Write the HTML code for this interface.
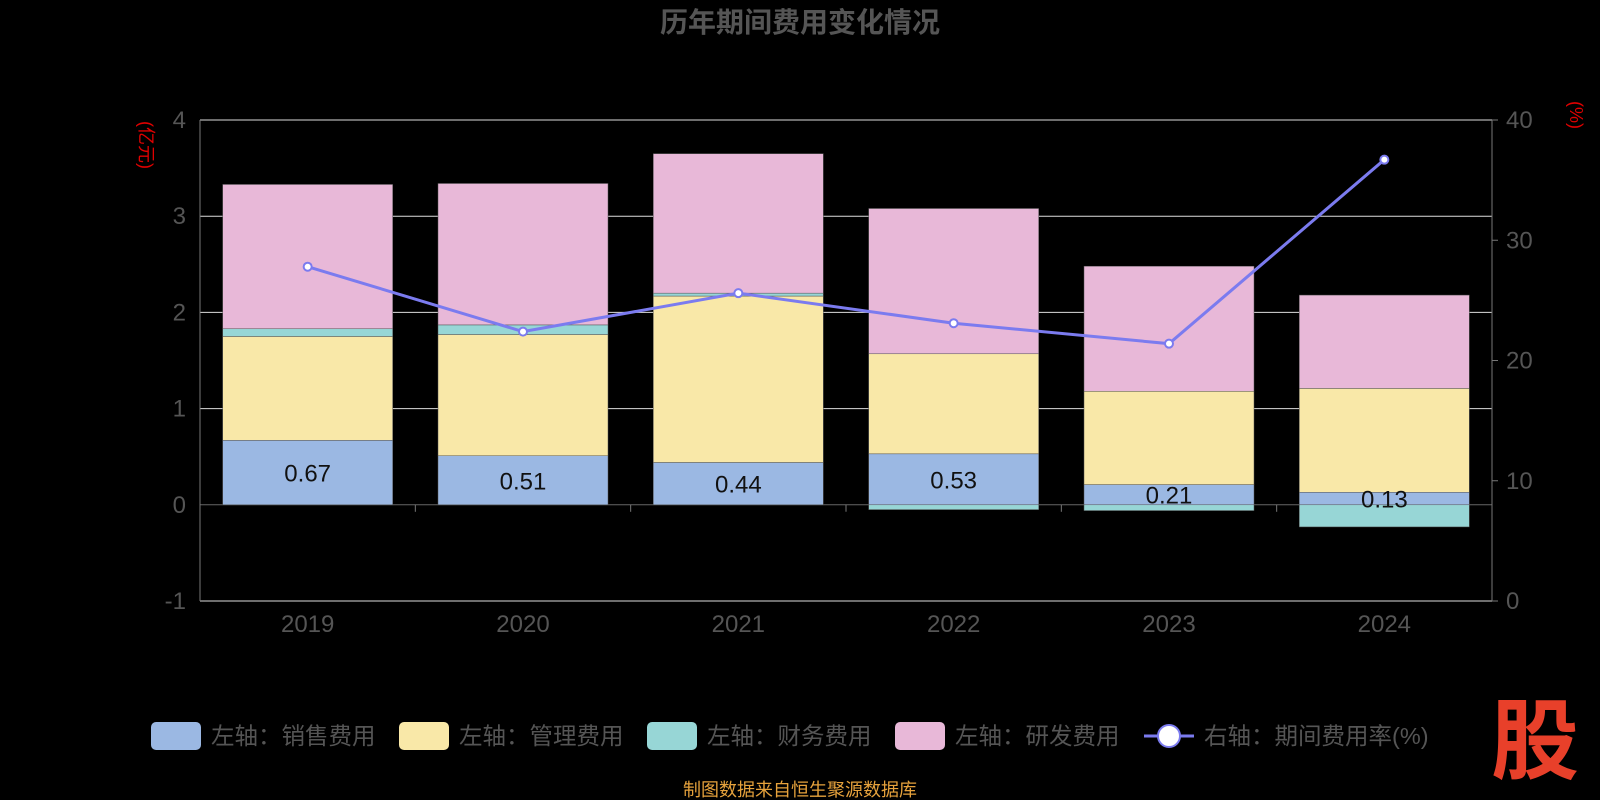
<!DOCTYPE html>
<html><head><meta charset="utf-8"><style>
html,body{margin:0;padding:0;background:#000;}
svg{display:block;font-family:"Liberation Sans","Noto Sans CJK SC",sans-serif;}
</style></head><body>
<svg id="chart" width="1600" height="800" viewBox="0 0 1600 800">
<text x="800" y="32" text-anchor="middle" font-size="28" font-weight="bold" fill="#555">历年期间费用变化情况</text>
<text transform="translate(140,145) rotate(90)" text-anchor="middle" font-size="18" fill="#e00000">(亿元)</text>
<text transform="translate(1570,115) rotate(90)" text-anchor="middle" font-size="18" fill="#e00000">(%)</text>
<g id="grid"></g><g id="bars"></g><g id="line"></g><g id="axes"></g>
<g font-size="23.5" fill="#555">
<rect x="151" y="722" width="50" height="28" rx="5" fill="#9bb8e3"/><text x="211" y="744">左轴：销售费用</text>
<rect x="399" y="722" width="50" height="28" rx="5" fill="#f9e8a8"/><text x="459" y="744">左轴：管理费用</text>
<rect x="647" y="722" width="50" height="28" rx="5" fill="#97d6d6"/><text x="707" y="744">左轴：财务费用</text>
<rect x="895" y="722" width="50" height="28" rx="5" fill="#e8b8d8"/><text x="955" y="744">左轴：研发费用</text>
<line x1="1144" y1="736" x2="1194" y2="736" stroke="#7b7bef" stroke-width="3"/><circle cx="1169" cy="736" r="11" fill="#fff" stroke="#7b7bef" stroke-width="2"/><text x="1204" y="744">右轴：期间费用率(%)</text>
</g>
<text x="800" y="796" text-anchor="middle" font-size="18" fill="#e6a23c">制图数据来自恒生聚源数据库</text>
<text x="1535" y="772" text-anchor="middle" font-size="88" font-weight="bold" fill="#e8402a">股</text>
</svg>
<script>
const years=["2019","2020","2021","2022","2023","2024"];
const sales=[0.67,0.51,0.44,0.53,0.21,0.13];
const admin=[1.08,1.26,1.73,1.04,0.97,1.08];
const finance=[0.08,0.10,0.03,-0.05,-0.06,-0.23];
const rd=[1.50,1.47,1.45,1.51,1.30,0.97];
const rate=[27.8,22.4,25.6,23.1,21.4,36.7];
const leftTicks=[-1,0,1,2,3,4];
const rightTicks=[0,10,20,30,40];
const NS="http://www.w3.org/2000/svg";
const x0=200,x1=1492,plotTop=120,plotBot=601;
const yL=v=>plotBot-(v+1)/5*(plotBot-plotTop);
const yR=v=>plotBot-v/40*(plotBot-plotTop);
const band=(x1-x0)/years.length;
const xc=i=>x0+band*(i+0.5);
function mk(tag,attrs,parent){const e=document.createElementNS(NS,tag);for(const k in attrs)e.setAttribute(k,attrs[k]);document.getElementById(parent).appendChild(e);return e;}
leftTicks.forEach(t=>{
 const g=mk('line',{x1:x0,x2:x1,y1:yL(t),y2:yL(t),stroke:t===0?'#666':'#ddd','stroke-width':1},'grid');
 
 
 const l=mk('text',{x:x0-14,y:yL(t)+8,'text-anchor':'end','font-size':24,fill:'#555'},'axes');l.textContent=t;
 
 
});
rightTicks.forEach(t=>{
 const l=mk('text',{x:x1+14,y:yR(t)+8,'font-size':24,fill:'#555'},'axes');l.textContent=t;
 
 
 mk('line',{x1:x1,x2:x1+6,y1:yR(t),y2:yR(t),stroke:'#777'},'axes');
});
mk('line',{x1:x0,x2:x0,y1:plotTop,y2:plotBot,stroke:'#777'},'axes');
mk('line',{x1:x1,x2:x1,y1:plotTop,y2:plotBot,stroke:'#777'},'axes');
for(let i=1;i<years.length;i++)mk('line',{x1:x0+band*i,x2:x0+band*i,y1:yL(0),y2:yL(0)+7,stroke:'#777'},'axes');
const bw=170;
years.forEach((y,i)=>{
 const lab=mk('text',{x:xc(i),y:plotBot+31,'text-anchor':'middle','font-size':24,fill:'#555'},'axes');lab.textContent=y;
 
 
 let pos=0,neg=0;
 [[sales,'#9bb8e3','bar-sales'],[admin,'#f9e8a8','bar-admin'],[finance,'#97d6d6','bar-finance'],[rd,'#e8b8d8','bar-rd']].forEach(([arr,c,n])=>{
  const v=arr[i];let a,b;
  if(v>=0){a=pos;b=pos+v;pos=b;}else{a=neg;b=neg+v;neg=b;}
  const r=mk('rect',{x:xc(i)-bw/2,y:Math.min(yL(a),yL(b)),width:bw,height:Math.abs(yL(a)-yL(b)),fill:c,stroke:'#555','stroke-width':0.5},'bars');
  
  
 });
 const t=mk('text',{x:xc(i),y:(yL(0)+yL(sales[i]))/2+9,'text-anchor':'middle','font-size':24,fill:'#111'},'bars');t.textContent=sales[i].toFixed(2);
 
 
});
const pl=mk('polyline',{points:rate.map((v,i)=>xc(i)+','+yR(v)).join(' '),fill:'none',stroke:'#7b7bef','stroke-width':3},'line');


rate.forEach((v,i)=>{
 const c=mk('circle',{cx:xc(i),cy:yR(v),r:4,fill:'#fff',stroke:'#7b7bef','stroke-width':2},'line');
 
 
});
</script>
</body></html>
